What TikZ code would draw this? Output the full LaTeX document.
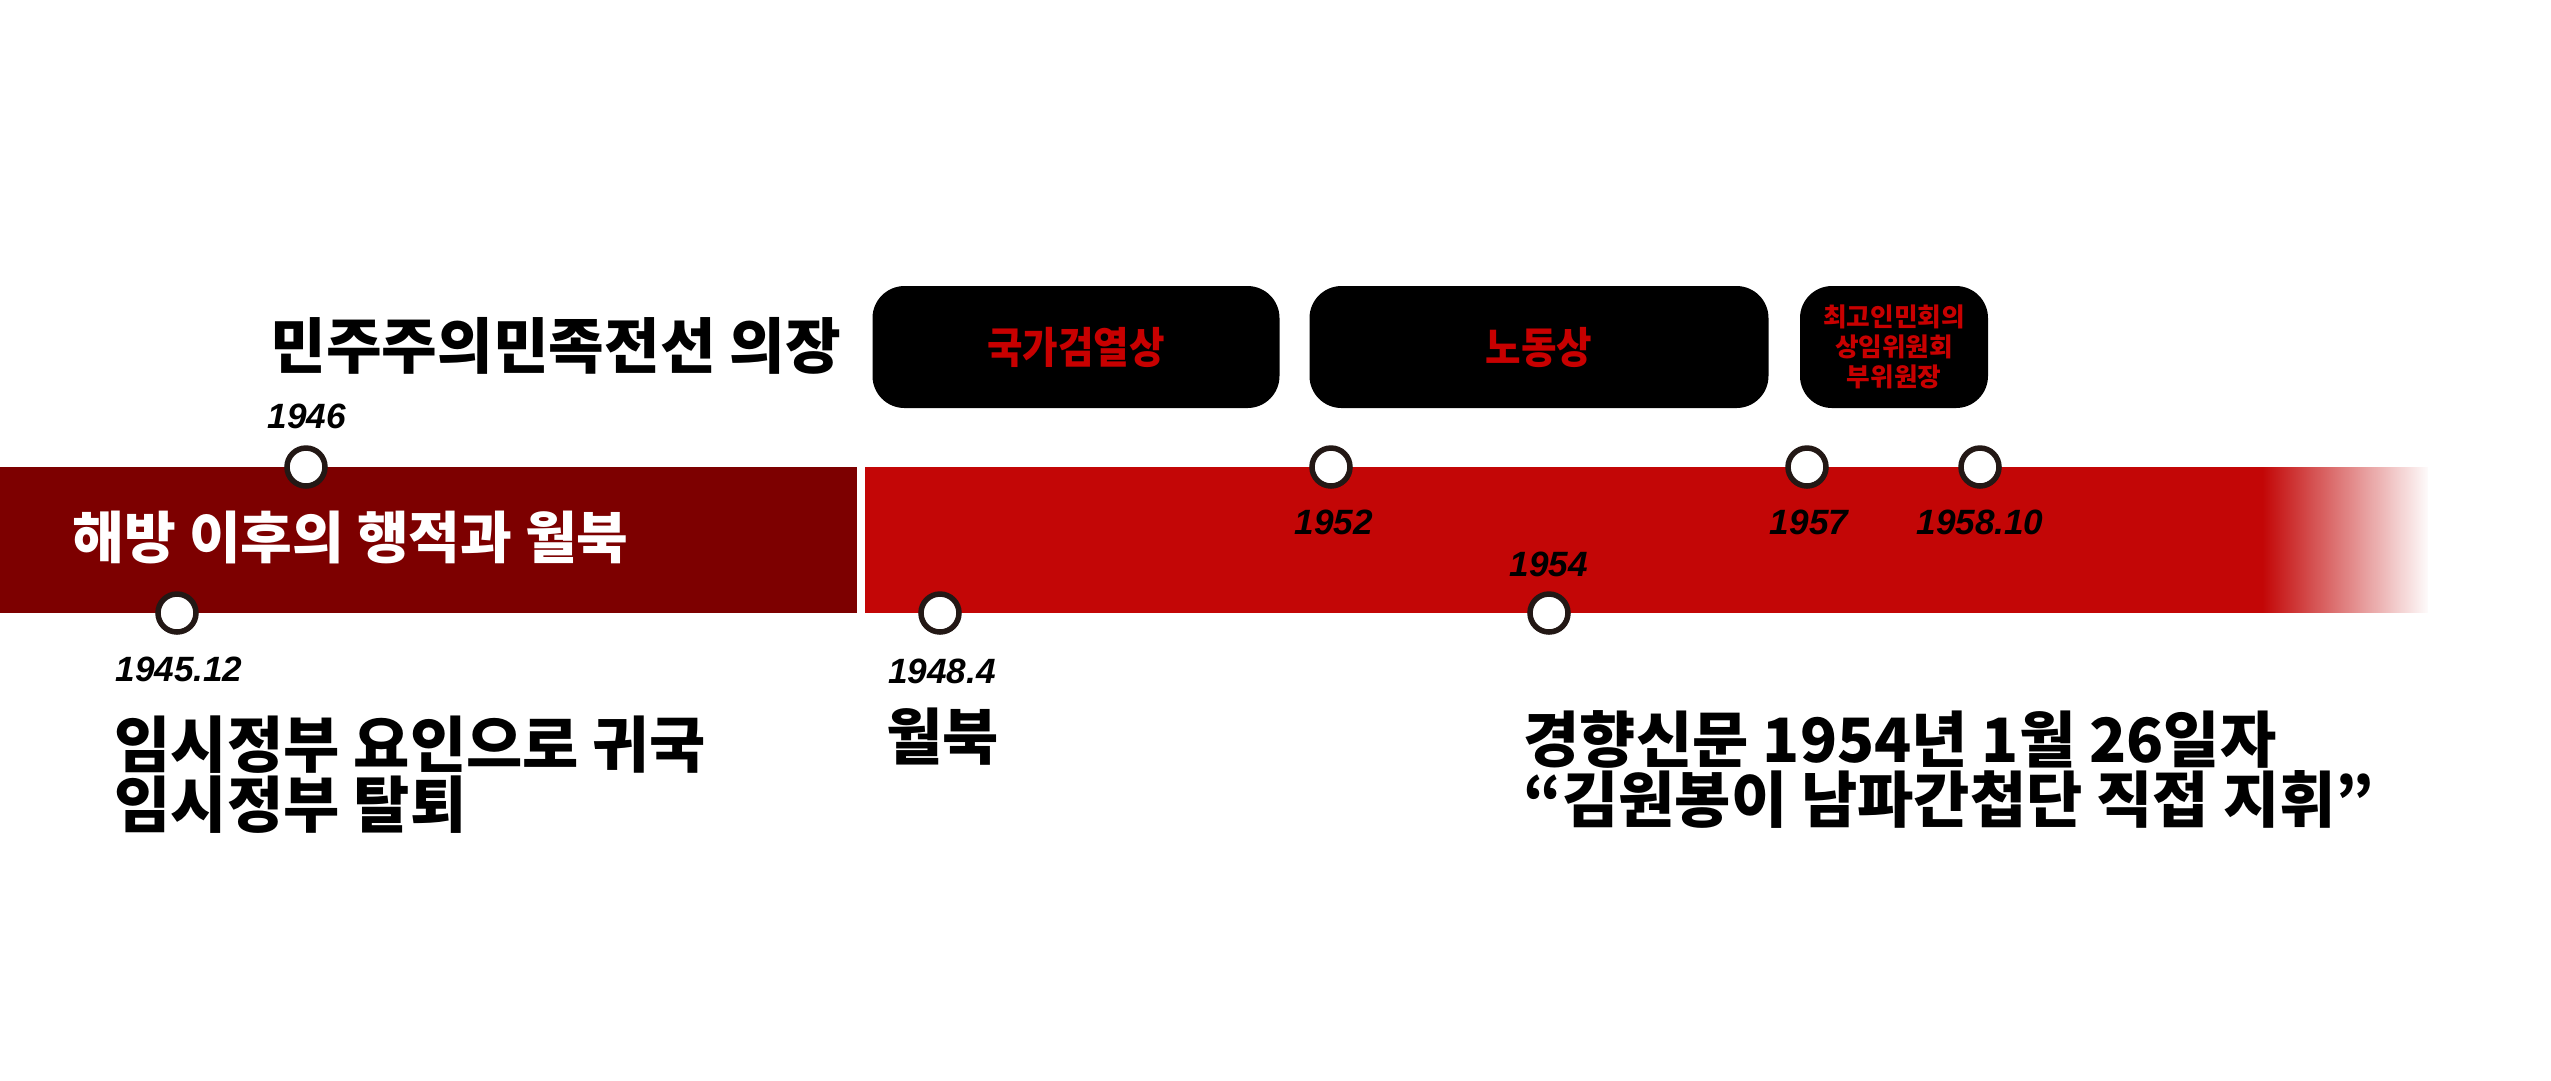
\documentclass[tikz,border=0pt]{standalone}
\usepackage{fontspec}
\setmainfont{Liberation Sans}
\newfontfamily\krfont{Noto Sans CJK KR}[BoldFont={Noto Sans CJK KR Black}]
\newfontfamily\krnarrow{Noto Sans CJK KR}[BoldFont={Noto Sans CJK KR Black},FakeStretch=0.9]
\newfontfamily\yrfont{Liberation Sans}
\usetikzlibrary{fadings}
\definecolor{bardark}{RGB}{125,0,0}
\definecolor{barred}{RGB}{195,6,6}
\definecolor{boxred}{RGB}{200,0,0}
\definecolor{dotline}{RGB}{35,24,21}
\tikzfading[name=barfade,left color=transparent!100,middle color=transparent!45,right color=transparent!0]

\begin{document}
\begin{tikzpicture}[x=0.1mm,y=-0.1mm,
  evdot/.style={circle,draw=dotline,fill=white,line width=0.55mm,minimum size=3.8mm,inner sep=0pt},
  yearlbl/.style={inner sep=0pt,font=\yrfont\bfseries\itshape\fontsize{10}{12}\selectfont},
  rolebox/.style={rounded corners=3.2mm,fill=black,text=boxred,minimum height=12.2mm,inner sep=0pt,align=center,
    font=\krnarrow\bfseries\fontsize{12.2}{14}\selectfont},
  evtext/.style={anchor=north west,inner sep=0pt,align=left,font=\krfont\bfseries\fontsize{17.4}{17}\selectfont}]
\fill[white] (0,0) rectangle (2551,1080);
\useasboundingbox (0,0) rectangle (2551,1080);

% timeline bars
\fill[bardark] (0,467) rectangle (857,613);
\fill[barred] (865,467) rectangle (2428,613);
\fill[white,path fading=barfade] (2262,466) rectangle (2430,614);

\node[anchor=west,inner sep=0pt,text=white,font=\krfont\bfseries\fontsize{16}{18}\selectfont] (ttl) at (72,537) {해방 이후의 행적과 월북};
\node[anchor=west,inner sep=0pt,font=\krfont\bfseries\fontsize{17.2}{18}\selectfont] (head) at (270,346) {민주주의민족전선 의장};

% events
\node[evdot] (d4512) at (177,613) {};
\node[yearlbl] (y4512) at (179,669) {1945.12};
\node[evdot] (d46) at (306,467) {};
\node[yearlbl] (y46) at (307,416) {1946};
\node[evdot] (d484) at (940,613) {};
\node[yearlbl] (y484) at (942,671) {1948.4};
\node[evdot] (d52) at (1331,467) {};
\node[yearlbl] (y52) at (1334,522) {1952};
\node[evdot] (d54) at (1549,613) {};
\node[yearlbl] (y54) at (1549,564) {1954};
\node[evdot] (d57) at (1807,467) {};
\node[yearlbl] (y57) at (1809,522) {1957};
\node[evdot] (d5810) at (1980,467) {};
\node[yearlbl] (y5810) at (1980,522) {1958.10};

% posts
\node[rolebox,minimum width=40.7mm] (bcensor) at (1076,347) {국가검열상};
\node[rolebox,minimum width=45.9mm] (blabor) at (1539,347) {노동상};
\node[rolebox,minimum width=18.8mm,font=\krfont\bfseries\fontsize{7.3}{8.5}\selectfont] (bpresid) at (1894,347) {최고인민회의\\상임위원회\\부위원장};

% notes
\node[evtext] (t4512) at (114,715) {임시정부 요인으로 귀국\\임시정부 탈퇴};
\node[evtext] (t484) at (886,707) {월북};
\node[evtext] (t54) at (1523,710) {경향신문 1954년 1월 26일자\\“김원봉이 남파간첩단 직접 지휘”};
\end{tikzpicture}
\end{document}
